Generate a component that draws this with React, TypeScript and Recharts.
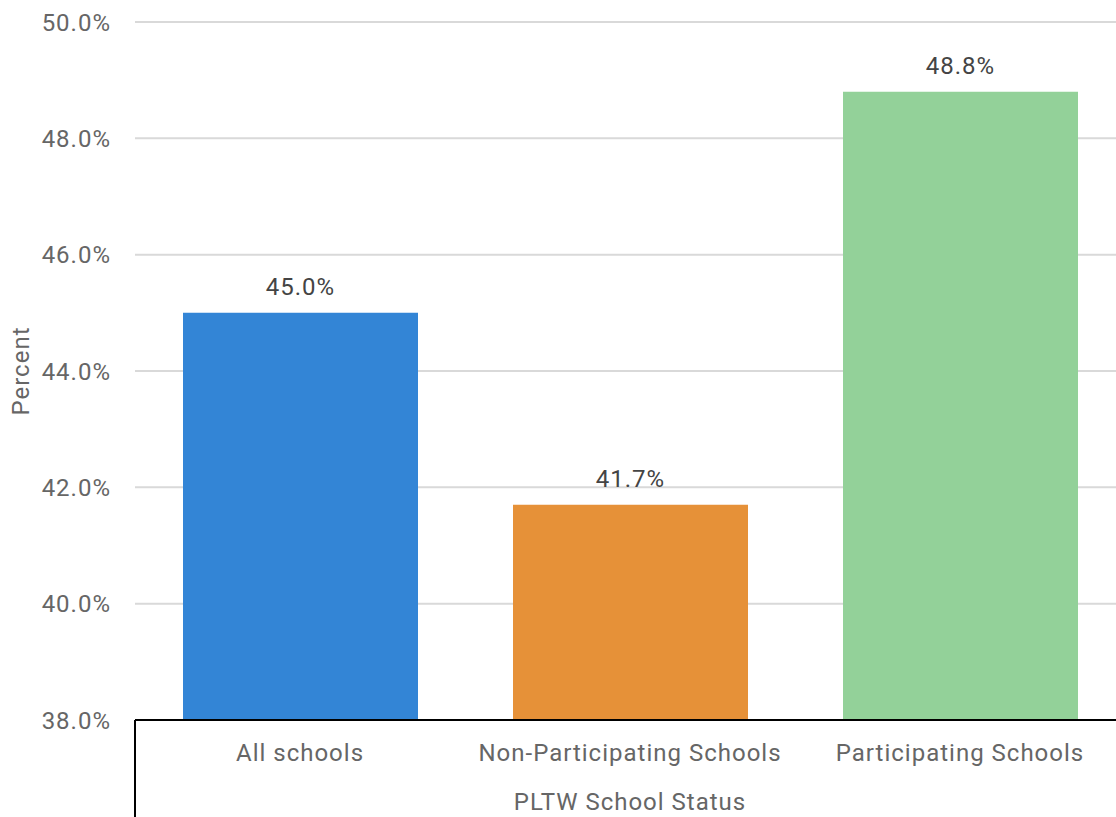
import { BarChart, Bar, XAxis, YAxis, CartesianGrid, LabelList, Cell, Label } from "recharts";

const categories = ["All schools", "Non-Participating Schools", "Participating Schools"];
const percents = [45.0, 41.7, 48.8];
const barColors = ["#3385d6", "#e69138", "#93d199"];
const yTicks = [38, 40, 42, 44, 46, 48, 50];

const data = categories.map((name, i) => ({ name, value: percents[i] }));

const FONT = "Roboto, 'Noto Sans', sans-serif";

export default function App() {
  return (
    <div style={{ position: "absolute", left: 0, top: 0, width: 1116, height: 817, overflow: "hidden", background: "#fff" }}>
      <BarChart width={1125} height={817} data={data} margin={{ top: 22, right: 0, left: 0, bottom: 0 }}>
        <CartesianGrid vertical={false} stroke="#d9d9d9" strokeWidth={2} />
        <XAxis
          dataKey="name"
          height={97}
          tickLine={false}
          tickSize={0}
          tickMargin={24}
          axisLine={{ stroke: "#000", strokeWidth: 2 }}
          tick={{ fill: "#666", fontSize: 24, fontFamily: FONT, letterSpacing: 1 }}
        >
          <Label value="PLTW School Status" position="insideBottom" offset={7} fill="#666" fontSize={24} fontFamily={FONT} style={{ letterSpacing: 1 }} />
        </XAxis>
        <YAxis
          width={135}
          domain={[38, 50]}
          ticks={yTicks}
          allowDataOverflow
          tickLine={false}
          axisLine={false}
          tickSize={0}
          tickMargin={24}
          tickFormatter={(v: number) => v.toFixed(1) + "%"}
          tick={{ fill: "#666", fontSize: 24, fontFamily: FONT, letterSpacing: 1 }}
        >
          <Label value="Percent" angle={-90} position="insideLeft" offset={20} fill="#666" fontSize={24} fontFamily={FONT} style={{ textAnchor: "middle", letterSpacing: 1 }} />
        </YAxis>
        <Bar dataKey="value" barSize={235} isAnimationActive={false}>
          {data.map((d, i) => (
            <Cell key={d.name} fill={barColors[i]} />
          ))}
          <LabelList
            dataKey="value"
            position="top"
            offset={18}
            formatter={(v: number) => v.toFixed(1) + "%"}
            style={{ fill: "#444", fontSize: 24, fontFamily: FONT, letterSpacing: 1 }}
          />
        </Bar>
      </BarChart>
      <div style={{ position: "absolute", left: 134, top: 720, width: 2, height: 97, background: "#000" }} />
    </div>
  );
}
